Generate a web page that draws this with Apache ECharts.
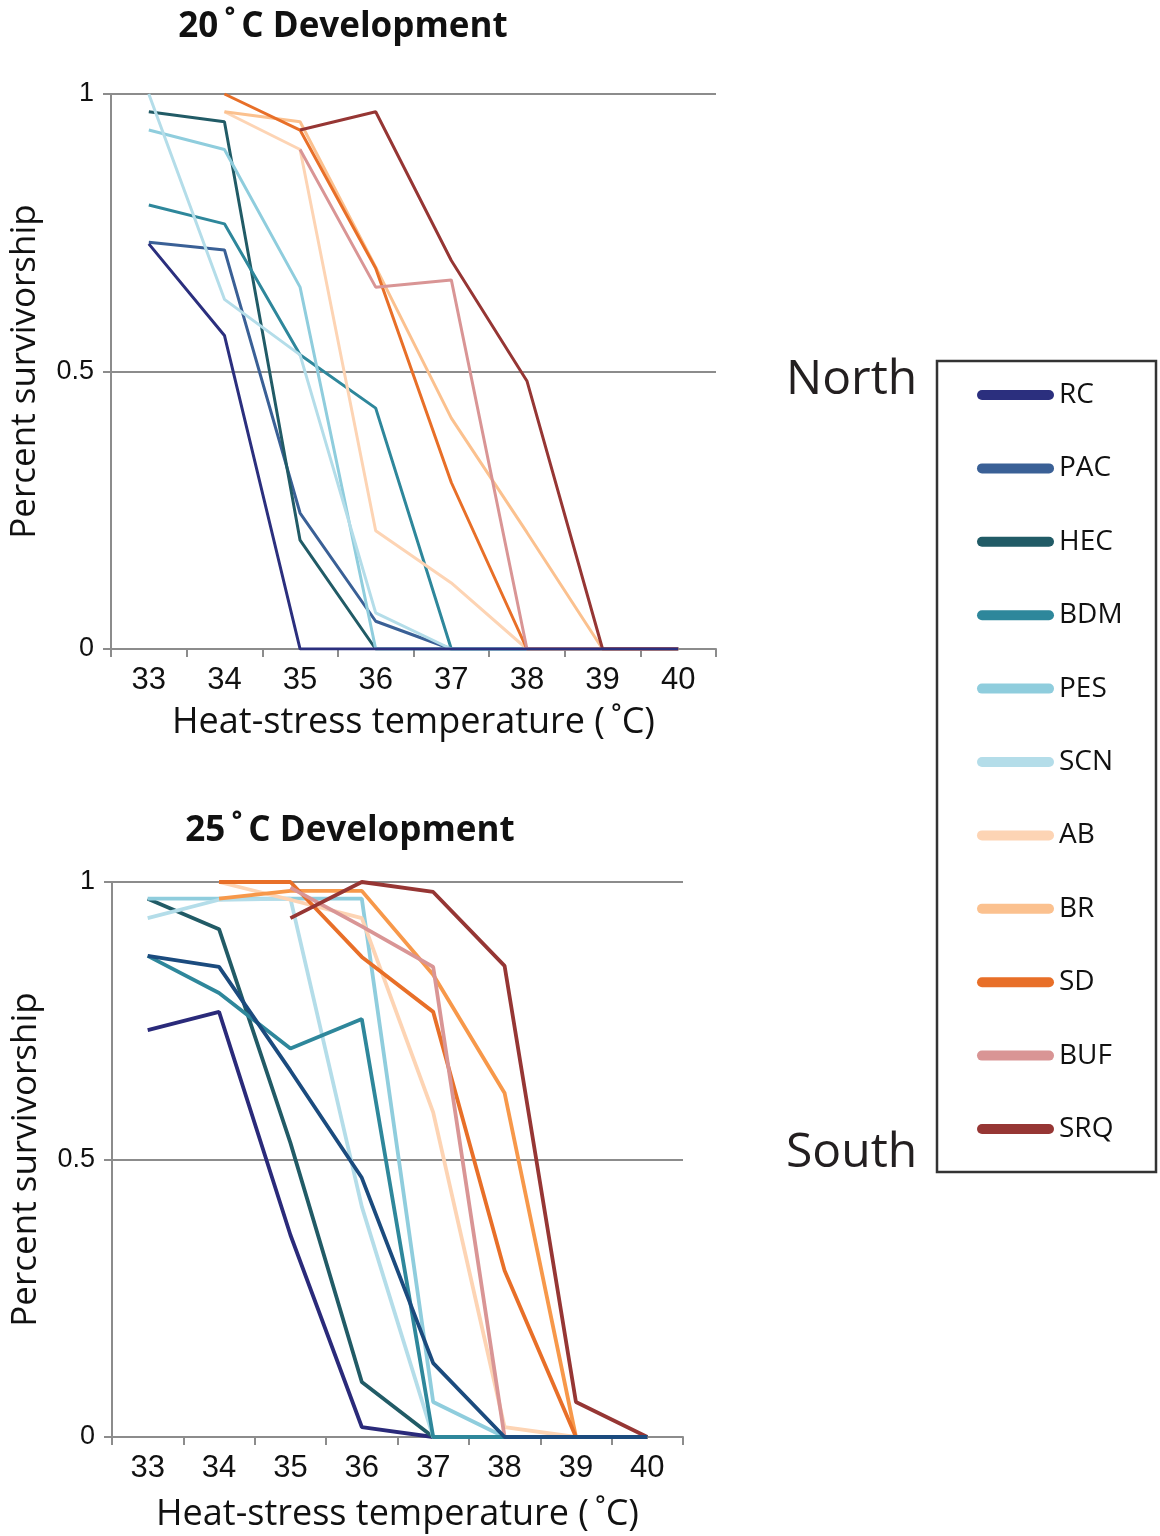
<!DOCTYPE html>
<html>
<head>
<meta charset="utf-8">
<title>Heat-stress survivorship</title>
<script src="https://cdn.jsdelivr.net/npm/echarts@6/dist/echarts.min.js"></script>
<style>
  html, body { margin: 0; padding: 0; background: #fff; }
  #chart { width: 1160px; height: 1536px; }
</style>
</head>
<body>
<div id="chart"></div>
<script>
// Heat-stress temperatures (x categories) and y tick values
const temps = ['33', '34', '35', '36', '37', '38', '39', '40'];
const yTickValues = [0, 0.5, 1];

// Populations, north to south
const populations = ['RC', 'PAC', 'HEC', 'BDM', 'PES', 'SCN', 'AB', 'BR', 'SD', 'BUF', 'SRQ'];

// Survivorship after 20°C development
const rc20  = [0.73, 0.565, 0, 0, 0, 0, 0, 0];
const pac20 = [0.733, 0.719, 0.245, 0.05, 0, 0, 0, 0];
const hec20 = [0.968, 0.95, 0.196, 0, 0, 0, 0, 0];
const bdm20 = [0.80, 0.766, 0.53, 0.434, 0, 0, 0, 0];
const pes20 = [0.935, 0.90, 0.652, 0, 0, 0, 0, 0];
const scn20 = [1.0, 0.63, 0.53, 0.065, 0, 0, 0, 0];
const ab20  = [null, 0.968, 0.90, 0.213, 0.119, 0, 0, 0];
const br20  = [null, 0.968, 0.95, 0.688, 0.416, 0.21, 0, 0];
const sd20  = [null, 1.0, 0.935, 0.686, 0.30, 0, 0, 0];
const buf20 = [null, null, 0.90, 0.652, 0.665, 0, 0, 0];
const srq20 = [null, null, 0.935, 0.968, 0.70, 0.483, 0, 0];

// Survivorship after 25°C development
const rc25  = [0.733, 0.766, 0.364, 0.018, 0, 0, 0, 0];
const pac25 = [0.867, 0.847, 0.66, 0.467, 0.133, 0, 0, 0];
const hec25 = [0.97, 0.915, 0.53, 0.099, 0, 0, 0, 0];
const bdm25 = [0.867, 0.80, 0.70, 0.753, 0, 0, 0, 0];
const pes25 = [0.97, 0.97, 0.97, 0.97, 0.063, 0, 0, 0];
const scn25 = [0.935, 0.968, 0.97, 0.415, 0, 0, 0, 0];
const ab25  = [null, 1.0, 0.968, 0.935, 0.585, 0.018, 0, 0];
const br25  = [null, 0.97, 0.984, 0.984, 0.833, 0.62, 0, 0];
const sd25  = [null, 1.0, 1.0, 0.865, 0.766, 0.30, 0, 0];
const buf25 = [null, null, 0.99, 0.92, 0.847, 0, 0, 0];
const srq25 = [null, null, 0.935, 1.0, 0.982, 0.849, 0.063, 0];

const values20 = [rc20, pac20, hec20, bdm20, pes20, scn20, ab20, br20, sd20, buf20, srq20];
const values25 = [rc25, pac25, hec25, bdm25, pes25, scn25, ab25, br25, sd25, buf25, srq25];

// Line colours per panel
const colors20 = ['#2b2f7e', '#3a6096', '#215b66', '#2e879b', '#8fcddd', '#b4dde9',
                  '#fdd4b4', '#fbc18f', '#e86f28', '#d99595', '#963634'];
const colors25 = ['#2a2a7a', '#1b4b7e', '#215b66', '#2e879b', '#8fcddd', '#b4dde9',
                  '#fdd4b4', '#f7984a', '#e86f28', '#d99595', '#963634'];

// Series drawn on top where lines run along zero
const topZ20 = { RC: 4 };
const topZ25 = { PAC: 5, BDM: 4 };

const gray = '#8c8c8c';
const labelFont = '"Liberation Sans", Arial, sans-serif';
const textFont = '"Open Sans", "Noto Sans", sans-serif';
const xName = 'Heat-stress temperature (\u2009˚C)';

function makeXAxis(gridIndex, nameGap) {
  return {
    type: 'category',
    gridIndex,
    data: temps,
    boundaryGap: true,
    name: xName,
    nameLocation: 'middle',
    nameGap,
    nameTextStyle: { fontFamily: textFont, fontSize: 36, color: '#111' },
    axisLine: { show: true, lineStyle: { color: gray, width: 2 } },
    axisTick: { show: true, length: 8, lineStyle: { color: gray, width: 2 } },
    axisLabel: { fontFamily: labelFont, fontSize: 31, color: '#111', margin: 16 },
    splitLine: { show: false }
  };
}

function makeYAxis(gridIndex) {
  return {
    type: 'value',
    gridIndex,
    min: yTickValues[0],
    max: yTickValues[yTickValues.length - 1],
    interval: 0.5,
    name: 'Percent survivorship',
    nameLocation: 'middle',
    nameGap: 68,
    nameTextStyle: { fontFamily: textFont, fontSize: 35, color: '#111' },
    axisLine: { show: true, lineStyle: { color: gray, width: 2 } },
    axisTick: { show: true, length: 8, lineStyle: { color: gray, width: 2 } },
    axisLabel: { fontFamily: labelFont, fontSize: 27, color: '#111', margin: 17 },
    splitLine: { show: true, lineStyle: { color: gray, width: 2 } }
  };
}

function buildSeries(valueSets, colors, panel, width, topZ) {
  return populations.map((name, i) => ({
    name,
    type: 'line',
    xAxisIndex: panel,
    yAxisIndex: panel,
    data: valueSets[i],
    symbol: 'none',
    z: topZ[name] || 2,
    color: colors[i],
    lineStyle: { color: colors[i], width },
    emphasis: { disabled: true }
  }));
}

const chart = echarts.init(document.getElementById('chart'), null, { renderer: 'canvas' });

const capsule = 'path://M5,0 H72 A5,5 0 0 1 72,10 H5 A5,5 0 0 1 5,0 Z';
const titleStyle = { fontFamily: textFont, fontSize: 35, fontWeight: 'bold', color: '#111' };

chart.setOption({
  animation: false,
  backgroundColor: '#fff',
  title: [
    { text: '20\u2009˚\u2009C Development', left: 338, top: 5, textAlign: 'center', textStyle: titleStyle },
    { text: '25\u2009˚\u2009C Development', left: 345, top: 809, textAlign: 'center', textStyle: titleStyle }
  ],
  legend: {
    data: populations,
    orient: 'vertical',
    left: 977,
    top: 376,
    padding: 0,
    itemWidth: 77,
    itemHeight: 10,
    itemGap: 35.4,
    icon: capsule,
    selectedMode: false,
    textStyle: { fontFamily: textFont, fontSize: 28, lineHeight: 30, color: '#111', padding: [8, 0, 0, 0] }
  },
  grid: [
    { left: 111, top: 94, width: 605, height: 555 },
    { left: 112, top: 882, width: 571, height: 555 }
  ],
  xAxis: [makeXAxis(0, 56), makeXAxis(1, 60)],
  yAxis: [makeYAxis(0), makeYAxis(1)],
  series: [
    ...buildSeries(values20, colors20, 0, 3, topZ20),
    ...buildSeries(values25, colors25, 1, 3.8, topZ25)
  ],
  graphic: [
    {
      type: 'rect',
      shape: { x: 937, y: 361, width: 219, height: 811 },
      style: { fill: 'none', stroke: '#333', lineWidth: 2.5 },
      silent: true
    },
    {
      type: 'text',
      x: 786, y: 380,
      style: { text: 'North', font: '48px "Open Sans", sans-serif', fill: '#231f20', textVerticalAlign: 'middle' },
      silent: true
    },
    {
      type: 'text',
      x: 786, y: 1153,
      style: { text: 'South', font: '48px "Open Sans", sans-serif', fill: '#231f20', textVerticalAlign: 'middle' },
      silent: true
    }
  ]
});
</script>
</body>
</html>
